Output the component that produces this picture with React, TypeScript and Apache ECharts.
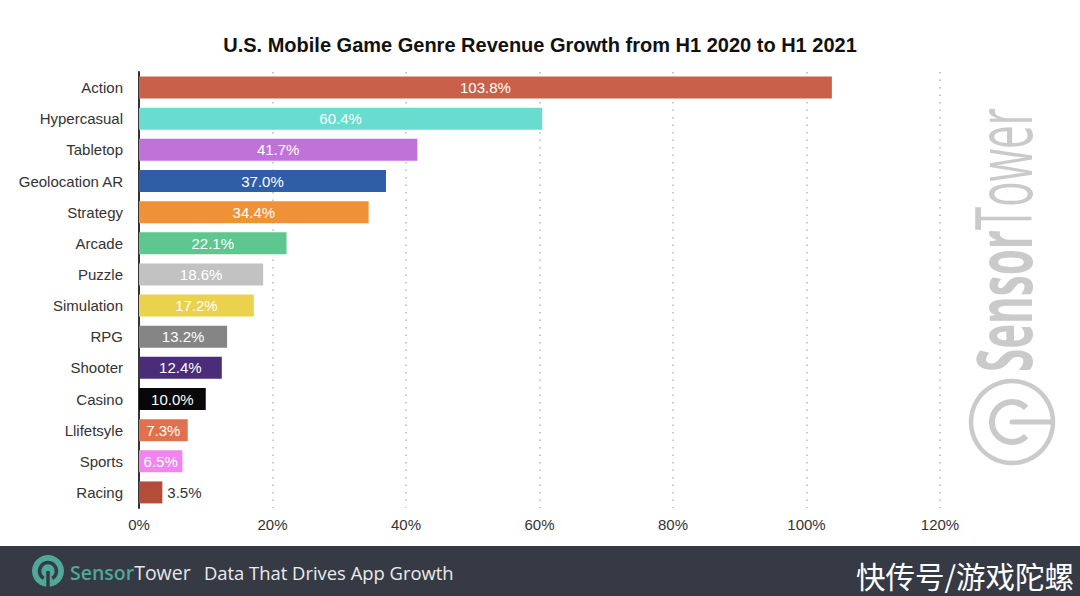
import React, { useEffect, useRef } from "react";
import * as echarts from "echarts";

const categories = [
  "Action", "Hypercasual", "Tabletop", "Geolocation AR", "Strategy", "Arcade", "Puzzle",
  "Simulation", "RPG", "Shooter", "Casino", "Llifetsyle", "Sports", "Racing",
];
const values = [103.8, 60.4, 41.7, 37.0, 34.4, 22.1, 18.6, 17.2, 13.2, 12.4, 10.0, 7.3, 6.5, 3.5];
const barColors = [
  "#c9604a", "#67dccf", "#c072d9", "#2f5ea6", "#ef9237", "#5dc78f", "#c2c2c2",
  "#ebd24c", "#858585", "#4a2c7a", "#080808", "#e0714f", "#ee86ee", "#b44c3a",
];
const outsideLabel = ["Racing"];
const xTicks = [0, 20, 40, 60, 80, 100, 120];

const title = "U.S. Mobile Game Genre Revenue Growth from H1 2020 to H1 2021";

export default function App() {
  const ref = useRef<HTMLDivElement>(null);
  useEffect(() => {
    document.body.style.margin = "0";
    const chart = echarts.init(ref.current!, null, { renderer: "svg" });
    const font = "'Liberation Sans', Arial, Helvetica, sans-serif";
    const wmColor = "#cacaca";
    chart.setOption({
      animation: false,
      backgroundColor: "#ffffff",
      textStyle: { fontFamily: font },
      title: {
        text: title,
        left: "center",
        top: 30,
        textStyle: { fontSize: 20, fontWeight: "bold", color: "#111", fontFamily: font },
      },
      grid: { left: 139, right: 140, top: 72, bottom: 88, containLabel: false },
      xAxis: {
        type: "value",
        min: xTicks[0],
        max: xTicks[xTicks.length - 1],
        interval: 20,
        axisLine: { show: false },
        axisTick: { show: false },
        axisLabel: {
          formatter: (v: number) => `${v}%`,
          color: "#333",
          fontSize: 15,
          margin: 9,
          fontFamily: font,
        },
        splitLine: {
          show: true,
          lineStyle: { color: "#b8b8b8", width: 1.5, type: [1.5, 6] },
        },
      },
      yAxis: {
        type: "category",
        data: categories,
        inverse: true,
        axisLine: { show: true, lineStyle: { color: "#333", width: 2 } },
        axisTick: { show: false },
        axisLabel: { color: "#333", fontSize: 15, margin: 16, fontFamily: font },
        splitLine: { show: false },
      },
      series: [
        {
          type: "bar",
          barWidth: 22,
          data: values.map((v, i) => {
            const outside = outsideLabel.includes(categories[i]);
            return {
              value: v,
              itemStyle: { color: barColors[i] },
              label: outside
                ? { position: "right", color: "#333", distance: 5 }
                : { position: "inside", color: "#ffffff" },
            };
          }),
          label: {
            show: true,
            fontSize: 15,
            fontFamily: font,
            formatter: (p: any) => `${p.value.toFixed(1)}%`,
          },
        },
      ],
      graphic: [
        // Watermark text
        {
          type: "text",
          x: 1002,
          y: 240,
          rotation: Math.PI / 2,
          scaleX: 0.54,
          scaleY: 1,
          silent: true,
          style: {
            text: "{b|Sensor}{r|Tower}",
            align: "center",
            verticalAlign: "middle",
            rich: {
              b: { fontSize: 78, fontWeight: 700, fill: wmColor, fontFamily: "'Open Sans', sans-serif" },
              r: { fontSize: 78, fontWeight: 400, fill: wmColor, fontFamily: "'Open Sans', sans-serif" },
            },
          },
        },
        // Watermark logo
        {
          type: "circle",
          shape: { cx: 1012, cy: 422, r: 41 },
          silent: true,
          style: { fill: "none", stroke: wmColor, lineWidth: 4.5 },
        },
        {
          type: "arc",
          shape: { cx: 1012, cy: 422, r: 20, startAngle: Math.PI / 4, endAngle: (7 * Math.PI) / 4, clockwise: true },
          silent: true,
          style: { fill: "none", stroke: wmColor, lineWidth: 6 },
        },
        {
          type: "line",
          shape: { x1: 1012, y1: 422, x2: 1051, y2: 422 },
          silent: true,
          style: { stroke: wmColor, lineWidth: 5, lineCap: "round" },
        },
        // Footer
        {
          type: "rect",
          shape: { x: 0, y: 546, width: 1080, height: 50 },
          silent: true,
          style: { fill: "#363a45" },
        },
        {
          type: "circle",
          shape: { cx: 48, cy: 571, r: 16 },
          silent: true,
          style: { fill: "#4fa898" },
        },
        {
          type: "arc",
          shape: { cx: 48, cy: 571, r: 8.5, startAngle: (2 * Math.PI) / 3, endAngle: Math.PI / 3, clockwise: true },
          silent: true,
          style: { fill: "none", stroke: "#363a45", lineWidth: 3.5 },
        },
        {
          type: "line",
          shape: { x1: 48, y1: 571, x2: 48, y2: 588 },
          silent: true,
          style: { stroke: "#363a45", lineWidth: 3.5 },
        },
        {
          type: "text",
          x: 70,
          y: 572,
          silent: true,
          style: {
            text: "{s|Sensor}{t|Tower}",
            verticalAlign: "middle",
            rich: {
              s: { fontSize: 19.5, fontWeight: 600, fill: "#4fa898", fontFamily: "'Open Sans', sans-serif" },
              t: { fontSize: 19.5, fontWeight: 400, fill: "#e6e6e6", fontFamily: "'Open Sans', sans-serif" },
            },
          },
        },
        {
          type: "text",
          x: 204,
          y: 572,
          silent: true,
          style: {
            text: "Data That Drives App Growth",
            verticalAlign: "middle",
            fontSize: 18.4,
            fill: "#ececec",
            fontFamily: "'Open Sans', sans-serif",
          },
        },
        {
          type: "text",
          x: 1074,
          y: 575,
          silent: true,
          style: {
            text: "快传号/游戏陀螺",
            align: "right",
            verticalAlign: "middle",
            fontSize: 29.5,
            lineHeight: 30,
            fill: "#ffffff",
            fontFamily: "'Noto Sans CJK SC', sans-serif",
          },
        },
      ],
    });
    return () => chart.dispose();
  }, []);
  return <div ref={ref} style={{ width: 1080, height: 596 }} />;
}
